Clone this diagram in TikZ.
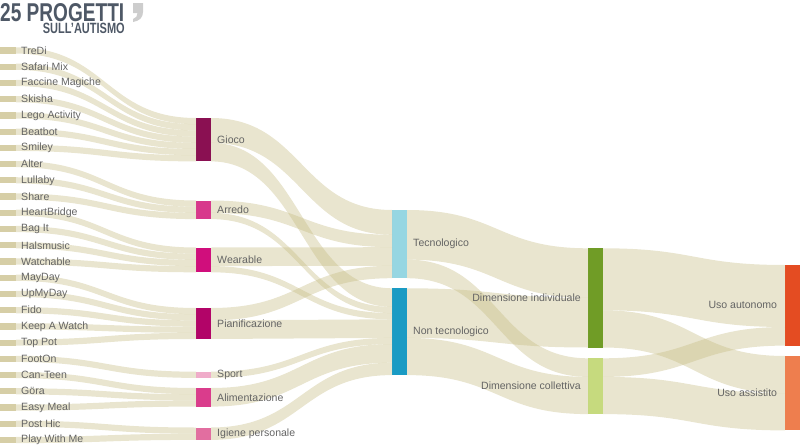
\documentclass[tikz,border=0pt]{standalone}
\usepackage{fontspec}
\setmainfont{Liberation Sans}
\newfontfamily\titlefont[FakeStretch=0.74]{Liberation Sans}
\usetikzlibrary{positioning,calc}
\definecolor{sgray}{RGB}{100,100,100}
\definecolor{titleblue}{RGB}{78,88,102}
\definecolor{quotegray}{RGB}{205,205,205}
\definecolor{sand}{RGB}{196,186,128}
\definecolor{sandbar}{RGB}{214,206,166}
\definecolor{giococol}{RGB}{138,16,82}
\definecolor{arredocol}{RGB}{216,56,140}
\definecolor{wearcol}{RGB}{208,14,124}
\definecolor{pianicol}{RGB}{178,4,104}
\definecolor{sportcol}{RGB}{240,172,202}
\definecolor{alimcol}{RGB}{218,60,140}
\definecolor{igienecol}{RGB}{226,110,160}
\definecolor{teccol}{RGB}{150,214,226}
\definecolor{nontcol}{RGB}{26,155,196}
\definecolor{indcol}{RGB}{112,156,38}
\definecolor{collcol}{RGB}{198,218,126}
\definecolor{autcol}{RGB}{228,76,34}
\definecolor{asscol}{RGB}{238,126,78}

% band from #1 (offset #2) to #3 (offset #4), #5 units thick
\newcommand\flow[5]{%
  \edef\flowsz{#5}%
  \fill[flowfill] let
    \p1=($(#1.north east)+(0,#2*6.2)$),
    \p2=($(#3.north west)+(0,#4*6.2)$),
    \p3=($(\p1)+(0,\flowsz*6.2)$),
    \p4=($(\p2)+(0,\flowsz*6.2)$),
    \p5=($(\p1)!0.5!(\p2)$)
  in (\p1) .. controls (\x5,\y1) and (\x5,\y2) .. (\p2)
     -- (\p4) .. controls (\x5,\y4) and (\x5,\y3) .. (\p3) -- cycle;}

\begin{document}
\begin{tikzpicture}[x=0.03cm,y=-0.03cm,
    bar/.style={rectangle, inner sep=0pt, outer sep=0pt, anchor=north west, minimum width=0.45cm},
    units/.style={minimum height=#1*0.186cm},
    projbar/.style={bar, minimum width=0.48cm, units=1, fill=sandbar},
    lbl/.style={font=\fontsize{9}{10}\selectfont, text=sgray, inner sep=0pt},
    flowfill/.style={fill=sand, fill opacity=0.38}]
  \useasboundingbox (0,0) rectangle (800,447);

  % title
  \node[anchor=base west, inner sep=0pt, text depth=0pt, text=titleblue, font=\titlefont\bfseries\fontsize{22}{24}\selectfont] (title) at (0,21.7) {25 PROGETTI};
  \node[anchor=base east, inner sep=0pt, text height=0.33cm, text=titleblue, font=\titlefont\bfseries\fontsize{12.7}{14}\selectfont] (subtitle) at (125,33.6) {SULL’AUTISMO};
  \fill[quotegray] (133,3) -- (143,3) -- (143,12) .. controls (143,18) and (139,21) .. (133,22)
    -- (133,19) .. controls (136,18) and (137.5,16) .. (137.5,13) -- (133,13) -- cycle;

  % projects
  \foreach \i in {1,...,25}
    \node[projbar] (p\i) at (0,{47.4+16.23*(\i-1)}) {};

  % categories
  \node[bar, units=7, fill=giococol] (gioco) at (196,118) {};
  \node[bar, units=3, fill=arredocol] (arredo) at (196,200.5) {};
  \node[bar, units=4, fill=wearcol] (wearable) at (196,247.5) {};
  \node[bar, units=5, fill=pianicol] (pianif) at (196,308) {};
  \node[bar, units=1, fill=sportcol] (sport) at (196,371.7) {};
  \node[bar, units=3, fill=alimcol] (alim) at (196,388) {};
  \node[bar, units=2, fill=igienecol] (igiene) at (196,427.5) {};

  \node[bar, units=11, fill=teccol] (tec) at (392,210) {};
  \node[bar, units=14, fill=nontcol] (nontec) at (392,288.3) {};

  \node[bar, units=16, fill=indcol] (dimind) at (588,248.3) {};
  \node[bar, units=9, fill=collcol] (dimcoll) at (588,358.3) {};

  \node[bar, units=13, fill=autcol] (autonomo) at (785,265) {};
  \node[bar, units=12, fill=asscol] (assistito) at (785,356) {};

  % flows
  \foreach \i/\cat/\k in {1/gioco/0, 2/gioco/1, 3/gioco/2, 4/gioco/3, 5/gioco/4, 6/gioco/5, 7/gioco/6,
      8/arredo/0, 9/arredo/1, 10/arredo/2,
      11/wearable/0, 12/wearable/1, 13/wearable/2, 14/wearable/3,
      15/pianif/0, 16/pianif/1, 17/pianif/2, 18/pianif/3, 19/pianif/4,
      20/sport/0, 21/alim/0, 22/alim/1, 23/alim/2, 24/igiene/0, 25/igiene/1}
    \flow{p\i}{0}{\cat}{\k}{1};

  \foreach \src/\sk/\dst/\dk/\wd in {gioco/0/tec/0/4, arredo/0/tec/4/2, wearable/0/tec/6/3, pianif/0/tec/9/2,
      gioco/4/nontec/0/3, arredo/2/nontec/3/1, wearable/3/nontec/4/1, pianif/2/nontec/5/3,
      sport/0/nontec/8/1, alim/0/nontec/9/3, igiene/0/nontec/12/2,
      tec/0/dimind/0/8, tec/8/dimcoll/0/3, nontec/0/dimind/8/8, nontec/8/dimcoll/3/6,
      dimind/0/autonomo/0/10, dimind/10/assistito/0/6, dimcoll/0/autonomo/10/3, dimcoll/3/assistito/6/6}
    \flow{\src}{\sk}{\dst}{\dk}{\wd};

  % labels
  \foreach \name [count=\i] in {TreDi, Safari Mix, Faccine Magiche, Skisha, Lego Activity, Beatbot, Smiley,
      Alter, Lullaby, Share, HeartBridge, Bag It, Halsmusic, Watchable, MayDay, UpMyDay, Fido,
      Keep A Watch, Top Pot, FootOn, Can-Teen, Göra, Easy Meal, Post Hic, Play With Me}
    \node[lbl, right=0.15cm of p\i] (lp\i) {\name};

  \node[lbl, right=0.18cm of gioco] (lgioco) {Gioco};
  \node[lbl, right=0.18cm of arredo] (larredo) {Arredo};
  \node[lbl, right=0.18cm of wearable] (lwearable) {Wearable};
  \node[lbl, right=0.18cm of pianif] (lpianif) {Pianificazione};
  \node[lbl, right=0.18cm of sport] (lsport) {Sport};
  \node[lbl, right=0.18cm of alim] (lalim) {Alimentazione};
  \node[lbl, right=0.18cm of igiene] (ligiene) {Igiene personale};
  \node[lbl, right=0.18cm of tec] (ltec) {Tecnologico};
  \node[lbl, right=0.18cm of nontec] (lnontec) {Non tecnologico};
  \node[lbl, left=0.21cm of dimind] (ldimind) {Dimensione individuale};
  \node[lbl, left=0.21cm of dimcoll] (ldimcoll) {Dimensione collettiva};
  \node[lbl, left=0.23cm of autonomo] (lautonomo) {Uso autonomo};
  \node[lbl, left=0.23cm of assistito] (lassistito) {Uso assistito};
\end{tikzpicture}
\end{document}
